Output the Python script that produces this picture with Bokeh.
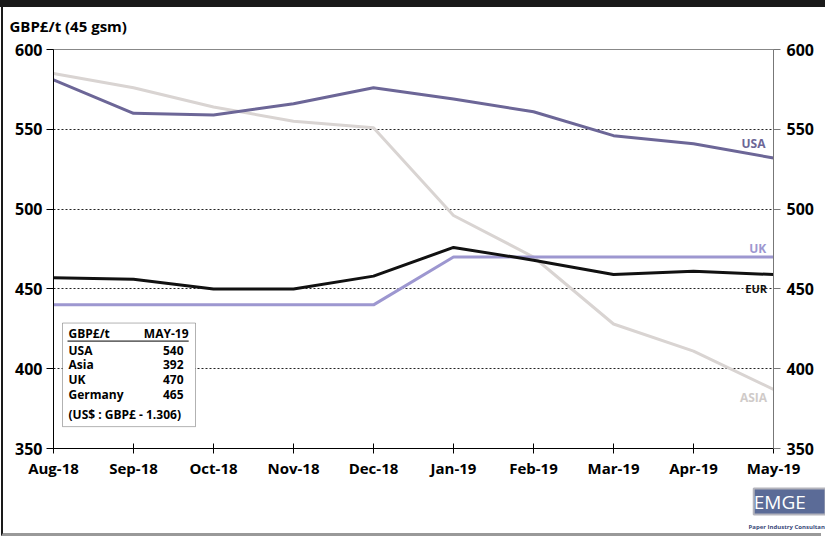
from bokeh.plotting import figure
from bokeh.models import (Range1d, LinearAxis, FixedTicker, Label, BoxAnnotation, Title,
                          InlineStyleSheet, GlobalInlineStyleSheet)
from bokeh.embed import file_html
from bokeh.resources import INLINE

months = ["Aug-18", "Sep-18", "Oct-18", "Nov-18", "Dec-18",
          "Jan-19", "Feb-19", "Mar-19", "Apr-19", "May-19"]
usa = [581, 560, 559, 566, 576, 569, 561, 546, 541, 532]
asia = [585, 576, 564, 555, 551, 496, 470, 428, 411, 387]
uk = [440, 440, 440, 440, 440, 470, 470, 470, 470, 470]
eur = [457, 456, 450, 450, 458, 476, 468, 459, 461, 459]
y_ticks = [350, 400, 450, 500, 550, 600]
grid_ticks = [400, 450, 500, 550]
table_rows = ["USA", "Asia", "UK", "Germany"]
table_vals = ["540", "392", "470", "465"]

FONT = "Open Sans"
xs = list(range(len(months)))

p = figure(width=825, height=536, output_backend="svg", toolbar_location=None,
           x_range=Range1d(0, len(months) - 1), y_range=Range1d(350, 600),
           min_border_left=53, min_border_right=52, min_border_top=47, min_border_bottom=88)
p.background_fill_color = "white"
p.border_fill_color = "white"
p.outline_line_color = "#888888"
p.outline_line_width = 1

p.title.text = "GBP£/t (45 gsm)"
p.title.align = "left"
p.title.offset = -44
p.title.standoff = 27
p.title.text_font = FONT
p.title.text_font_style = "bold"
p.title.text_font_size = "15px"
p.title.text_color = "black"

p.xgrid.visible = False
p.ygrid.ticker = FixedTicker(ticks=grid_ticks)
p.ygrid.grid_line_color = "#222222"
p.ygrid.grid_line_dash = "2 2"
p.ygrid.grid_line_width = 1

p.xaxis.ticker = FixedTicker(ticks=xs)
p.xaxis.major_label_overrides = {i: m for i, m in enumerate(months)}
p.xaxis.major_tick_in = 5
p.xaxis.major_tick_out = 5
p.xaxis.minor_tick_line_color = None
p.xaxis.axis_line_color = "black"
p.xaxis.major_label_standoff = 4
p.xaxis.major_label_text_font = FONT
p.xaxis.major_label_text_font_style = "bold"
p.xaxis.major_label_text_font_size = "15px"
p.xaxis.major_label_text_color = "black"

p.yaxis.ticker = FixedTicker(ticks=y_ticks)
p.yaxis.major_tick_in = 0
p.yaxis.major_tick_out = 7
p.yaxis.minor_tick_line_color = None
p.yaxis.axis_line_color = "black"
p.yaxis.major_label_standoff = 4
p.yaxis.major_label_text_font = FONT
p.yaxis.major_label_text_font_style = "bold"
p.yaxis.major_label_text_font_size = "16px"
p.yaxis.major_label_text_color = "black"

ry = LinearAxis(ticker=FixedTicker(ticks=y_ticks), major_tick_in=0, major_tick_out=7,
                minor_tick_line_color=None, axis_line_color="#777777",
                major_tick_line_color="#777777", major_label_standoff=6,
                major_label_text_font=FONT, major_label_text_font_style="bold",
                major_label_text_font_size="16px", major_label_text_color="black")
p.add_layout(ry, "right")

p.line(xs, asia, line_color="#d9d4d2", line_width=3)
p.line(xs, uk, line_color="#9d97d0", line_width=3)
p.line(xs, usa, line_color="#6c6697", line_width=3)
p.line(xs, eur, line_color="#111111", line_width=3)

def lab(x, y, t, color="black", size="12px", align="left", baseline="middle"):
    p.add_layout(Label(x=x, y=y, text=t, text_color=color, text_font=FONT,
                       text_font_style="bold", text_font_size=size,
                       text_align=align, text_baseline=baseline))

lab(8.9, 541.4, "USA", "#6c6697", "12px", "right")
lab(8.91, 475.3, "UK", "#9d97d0", "12px", "right")
lab(8.92, 450.4, "EUR", "#111111", "11px", "right")
lab(8.92, 381.8, "ASIA", "#d0cbc9", "12px", "right")

p.add_layout(BoxAnnotation(left=0.1125, right=1.775, bottom=363.7, top=428.6,
                           fill_color="white", fill_alpha=1, line_color="black",
                           line_width=1, level="underlay"))
p.segment(x0=[0.175], y0=[417.3], x1=[1.69], y1=[417.3], line_color="black", line_width=1)
lab(0.1875, 421.9, "GBP£/t", size="12px")
lab(1.6875, 421.9, "MAY-19", size="12px", align="right")
row_y = [411.7, 402.4, 393.0, 383.7]
for name, v, yy in zip(table_rows, table_vals, row_y):
    lab(0.1875, yy, name, size="12px")
    lab(1.625, yy, v, size="12px", align="right")
lab(0.1875, 371.2, "(US$ : GBP£ - 1.306)", size="12px")

# logo texts below the axis
logo = Title(text="  EMGE  ", align="right", offset=-52, standoff=12,
             text_font=FONT, text_font_size="19px", text_font_style="normal",
             text_color="white", background_fill_color="#5b6b97",
             border_line_color="#b4b4bc", border_line_width=2)
p.add_layout(logo, "below")
sub = Title(text="Paper Industry Consultants", align="right", offset=-57, standoff=0,
            text_font=FONT, text_font_size="6px", text_font_style="bold",
            text_color="#3b4a7a")
p.add_layout(sub, "below")

css = """
:host::before { content: ""; position: fixed; left: 0px; top: 0px; width: 825px;
  height: 7px; background: #1a1a1a; z-index: 10; pointer-events: none; }
:host::after { content: ""; position: fixed; left: 1px; top: 7px; width: 820px;
  height: 529px; box-sizing: border-box; border-left: 2px solid #1a1a1a;
  border-bottom: 3px solid #999999; z-index: 10; pointer-events: none; }
"""
page_css = "html, body { margin: 0; padding: 0; overflow: hidden; }"
p.stylesheets = [InlineStyleSheet(css=css), GlobalInlineStyleSheet(css=page_css)]

open("out.html", "w").write(file_html(p, INLINE))
